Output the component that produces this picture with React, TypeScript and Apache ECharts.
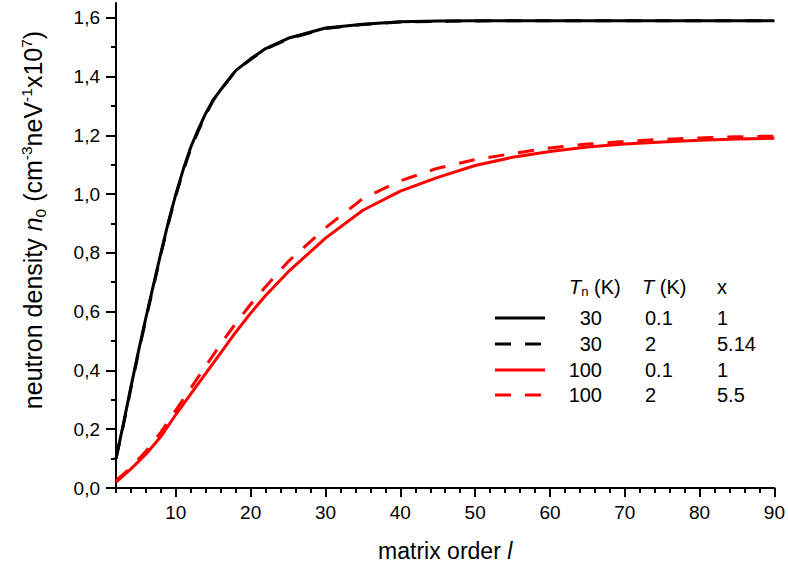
import React, { useEffect, useRef } from "react";
import * as echarts from "echarts";

const xBlack = [2, 3, 4, 5, 6, 7, 8, 9, 10, 11, 12, 13, 14, 15, 16, 18, 20, 22, 25, 30, 35, 40, 45, 50, 60, 70, 80, 90];
const blackSolid = [0.10, 0.22, 0.345, 0.465, 0.58, 0.69, 0.80, 0.905, 1.00, 1.085, 1.16, 1.22, 1.275, 1.32, 1.355, 1.42, 1.46, 1.495, 1.53, 1.565, 1.578, 1.586, 1.589, 1.59, 1.59, 1.59, 1.59, 1.59];
const blackDashed = [0.10, 0.215, 0.34, 0.46, 0.575, 0.685, 0.795, 0.90, 0.995, 1.08, 1.155, 1.215, 1.27, 1.32, 1.355, 1.42, 1.458, 1.493, 1.528, 1.563, 1.577, 1.585, 1.588, 1.589, 1.59, 1.59, 1.59, 1.59];

const xRed = [2, 4, 6, 8, 10, 12, 14, 16, 18, 20, 22, 25, 30, 35, 40, 45, 50, 55, 60, 65, 70, 75, 80, 85, 90];
const redSolid = [0.02, 0.065, 0.115, 0.175, 0.25, 0.32, 0.39, 0.46, 0.53, 0.595, 0.655, 0.735, 0.85, 0.945, 1.01, 1.057, 1.097, 1.125, 1.145, 1.16, 1.17, 1.177, 1.183, 1.187, 1.19];
const redDashed = [0.025, 0.07, 0.125, 0.19, 0.265, 0.34, 0.415, 0.49, 0.56, 0.625, 0.685, 0.77, 0.885, 0.985, 1.045, 1.088, 1.117, 1.138, 1.157, 1.17, 1.179, 1.186, 1.191, 1.195, 1.197];

const xMajorTicks = [10, 20, 30, 40, 50, 60, 70, 80, 90];
const xMinorTicks = [2, 4, 6, 8, 10, 12, 14, 16, 18, 20, 22, 24, 26, 28, 30, 32, 34, 36, 38, 40, 42, 44, 46, 48, 50, 52, 54, 56, 58, 60, 62, 64, 66, 68, 70, 72, 74, 76, 78, 80, 82, 84, 86, 88, 90];
const yMajorTicks = [0, 0.2, 0.4, 0.6, 0.8, 1.0, 1.2, 1.4, 1.6];
const yMinorTicks = [0, 0.1, 0.2, 0.3, 0.4, 0.5, 0.6, 0.7, 0.8, 0.9, 1.0, 1.1, 1.2, 1.3, 1.4, 1.5, 1.6];

const legendTn = ["30", "30", "100", "100"];
const legendT = ["0.1", "2", "0.1", "2"];
const legendX = ["1", "5.14", "1", "5.5"];
const legendColors = ["#000000", "#000000", "#ff0000", "#ff0000"];
const legendDashed = [false, true, false, true];

const FONT = "'Liberation Sans', Arial, Helvetica, sans-serif";
const DASH = [16, 14];

function pairs(xs: number[], ys: number[]) {
  return xs.map((x, i) => [x, ys[i]]);
}

export default function App() {
  const ref = useRef<HTMLDivElement>(null);
  useEffect(() => {
    if (!ref.current) return;
    const chart = echarts.init(ref.current, null, { renderer: "svg" });

    const rowY = [318, 344, 370, 395];
    const LF = 20;
    const legendEls: any[] = [];
    rowY.forEach((y, i) => {
      legendEls.push({
        type: "line",
        shape: { x1: 495, y1: y, x2: 545, y2: y },
        style: { stroke: legendColors[i], lineWidth: 3, lineDash: legendDashed[i] ? DASH : null },
      });
      legendEls.push({
        type: "text", x: 602, y,
        style: { text: legendTn[i], font: `${LF}px ${FONT}`, fill: "#000", align: "right", verticalAlign: "middle" },
      });
      legendEls.push({
        type: "text", x: 645, y,
        style: { text: legendT[i], font: `${LF}px ${FONT}`, fill: "#000", align: "left", verticalAlign: "middle" },
      });
      legendEls.push({
        type: "text", x: 717, y,
        style: { text: legendX[i], font: `${LF}px ${FONT}`, fill: "#000", align: "left", verticalAlign: "middle" },
      });
    });
    legendEls.push({
      type: "text", x: 569, y: 287,
      style: {
        text: "{i|T}{sub|n}{a| (K)}",
        align: "left", verticalAlign: "middle",
        rich: {
          i: { fontFamily: FONT, fontSize: LF, fontStyle: "italic", lineHeight: 22, fill: "#000" },
          sub: { fontFamily: FONT, fontSize: 13, lineHeight: 6, verticalAlign: "bottom", fill: "#000" },
          a: { fontFamily: FONT, fontSize: LF, lineHeight: 22, fill: "#000" },
        },
      },
    });
    legendEls.push({
      type: "text", x: 642, y: 287,
      style: {
        text: "{i|T}{a| (K)}",
        align: "left", verticalAlign: "middle",
        rich: {
          i: { fontFamily: FONT, fontSize: LF, fontStyle: "italic", lineHeight: 22, fill: "#000" },
          a: { fontFamily: FONT, fontSize: LF, lineHeight: 22, fill: "#000" },
        },
      },
    });
    legendEls.push({
      type: "text", x: 717, y: 287,
      style: { text: "x", font: `${LF}px ${FONT}`, fill: "#000", align: "left", verticalAlign: "middle" },
    });

    const yTitle = {
      type: "text", x: 33, y: 220, rotation: Math.PI / 2,
      style: {
        text: "{a|neutron density }{i|n}{sub|0}{a| (cm}{sup|-3}{a|neV}{sup|-1}{a|x10}{sup|7}{a|)}",
        align: "center", verticalAlign: "middle",
        rich: {
          a: { fontFamily: FONT, fontSize: 25, lineHeight: 30, fill: "#000" },
          i: { fontFamily: FONT, fontSize: 25, fontStyle: "italic", lineHeight: 30, fill: "#000" },
          sup: { fontFamily: FONT, fontSize: 15.5, lineHeight: 15, verticalAlign: "top", fill: "#000" },
          sub: { fontFamily: FONT, fontSize: 15.5, lineHeight: 10, verticalAlign: "bottom", fill: "#000" },
        },
      },
    };

    chart.setOption({
      animation: false,
      backgroundColor: "#ffffff",
      grid: { left: 116, right: 12, top: 3, bottom: 78, containLabel: false },
      xAxis: [
        {
          type: "value", min: 2, max: 90, position: "bottom",
          name: "{a|matrix order }{i|l}",
          nameLocation: "middle", nameGap: 51,
          nameTextStyle: {
            rich: {
              a: { fontFamily: FONT, fontSize: 23, color: "#000" },
              i: { fontFamily: FONT, fontSize: 23, fontStyle: "italic", color: "#000" },
            },
          },
          axisLine: { show: true, onZero: false, lineStyle: { color: "#000", width: 2 } },
          axisTick: { show: true, length: 9, customValues: xMajorTicks, lineStyle: { color: "#000", width: 2 } },
          axisLabel: { show: true, customValues: xMajorTicks, margin: 15, color: "#000", fontFamily: FONT, fontSize: 19 },
          splitLine: { show: false },
        },
        {
          type: "value", min: 2, max: 90, position: "bottom",
          axisLine: { show: false },
          axisTick: { show: true, length: 5, customValues: xMinorTicks, lineStyle: { color: "#000", width: 2 } },
          axisLabel: { show: false },
          splitLine: { show: false },
        },
      ],
      yAxis: [
        {
          type: "value", min: 0, max: 1.65, position: "left",
          axisLine: { show: true, onZero: false, lineStyle: { color: "#000", width: 2 } },
          axisTick: { show: true, length: 10, customValues: yMajorTicks, lineStyle: { color: "#000", width: 2 } },
          axisLabel: {
            show: true, customValues: yMajorTicks, margin: 16, color: "#000", fontFamily: FONT, fontSize: 19,
            formatter: (v: number) => v.toFixed(1).replace(".", ","),
          },
          splitLine: { show: false },
        },
        {
          type: "value", min: 0, max: 1.65, position: "left",
          axisLine: { show: false },
          axisTick: { show: true, length: 5, customValues: yMinorTicks, lineStyle: { color: "#000", width: 2 } },
          axisLabel: { show: false },
          splitLine: { show: false },
        },
      ],
      graphic: [yTitle, ...legendEls],
      series: [
        {
          type: "line", name: "Tn=30 T=0.1", data: pairs(xBlack, blackSolid), showSymbol: false, smooth: false,
          lineStyle: { color: "#000", width: 3 }, itemStyle: { color: "#000" }, xAxisIndex: 0, yAxisIndex: 0,
        },
        {
          type: "line", name: "Tn=30 T=2", data: pairs(xBlack, blackDashed), showSymbol: false, smooth: false,
          lineStyle: { color: "#000", width: 3, type: DASH }, itemStyle: { color: "#000" }, xAxisIndex: 0, yAxisIndex: 0,
        },
        {
          type: "line", name: "Tn=100 T=0.1", data: pairs(xRed, redSolid), showSymbol: false, smooth: false,
          lineStyle: { color: "#ff0000", width: 3 }, itemStyle: { color: "#ff0000" }, xAxisIndex: 0, yAxisIndex: 0,
        },
        {
          type: "line", name: "Tn=100 T=2", data: pairs(xRed, redDashed), showSymbol: false, smooth: false,
          lineStyle: { color: "#ff0000", width: 3, type: DASH }, itemStyle: { color: "#ff0000" }, xAxisIndex: 0, yAxisIndex: 0,
        },
      ],
    });
    return () => chart.dispose();
  }, []);
  return <div ref={ref} style={{ width: 788, height: 567, position: "absolute", left: 0, top: 0, background: "#fff" }} />;
}
